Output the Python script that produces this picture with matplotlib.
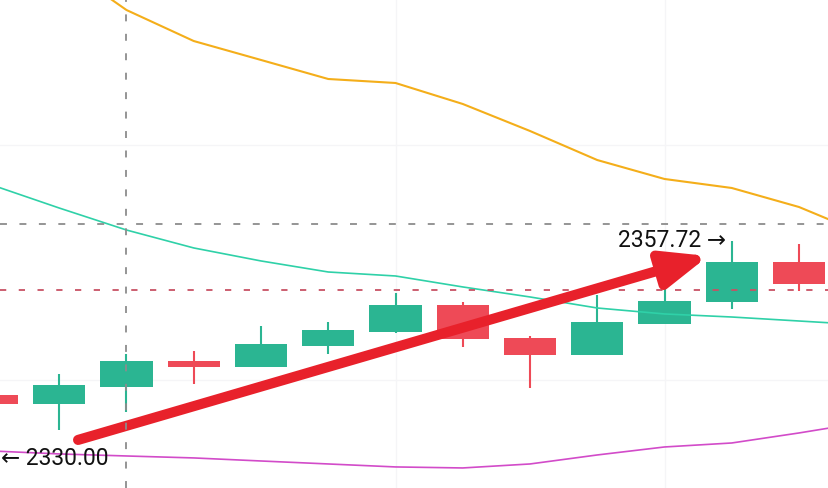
import matplotlib
matplotlib.use("Agg")
import matplotlib.pyplot as plt
import matplotlib.transforms as mtransforms
from matplotlib.patches import FancyArrowPatch, ArrowStyle
import numpy as np

plt.rcParams['lines.scale_dashes'] = False

# ---- data (prices) ----
idx = [0, 1, 2, 3, 4, 5, 6, 7, 8, 9, 10, 11, 12]
opens  = [2338.05, 2336.90, 2339.07, 2342.39, 2341.63, 2344.31, 2346.10,
          2349.55, 2345.33, 2343.16, 2347.12, 2349.93, 2355.04]
closes = [2336.90, 2339.33, 2342.39, 2341.63, 2344.57, 2346.35, 2349.55,
          2345.20, 2343.16, 2347.38, 2350.06, 2355.04, 2352.23]
highs  = [2338.05, 2340.73, 2343.29, 2343.67, 2346.86, 2347.38, 2351.08,
          2349.93, 2345.59, 2350.82, 2355.93, 2357.72, 2357.34]
lows   = [2336.90, 2333.58, 2335.88, 2339.46, 2341.63, 2343.29, 2345.97,
          2344.18, 2338.95, 2343.16, 2347.12, 2349.04, 2351.33]

ma_idx = [0, 1, 2, 3, 4, 5, 6, 7, 8, 9, 10, 11, 12, 13]
ma_orange = [2399.35, 2393.22, 2387.22, 2383.26, 2380.84, 2378.41, 2377.90,
             2375.22, 2371.77, 2368.06, 2365.64, 2364.49, 2362.06, 2358.49]
ma_teal = [2364.87, 2361.93, 2359.12, 2356.83, 2355.17, 2353.76, 2353.25,
           2351.85, 2350.57, 2349.16, 2348.40, 2348.01, 2347.50, 2346.99]
ma_pink = [2330.90, 2330.52, 2330.26, 2330.01, 2329.62, 2329.24, 2328.86,
           2328.73, 2329.24, 2330.39, 2331.41, 2331.92, 2333.20, 2334.60]

high_label = 2357.72
high_label_idx = 11
low_label = 2330.00
crosshair_price = 2359.89
crosshair_idx = 2
red_level = 2351.46
grid_x = [6, 10]
grid_y = [2340, 2370]
arrow_start = (1.28, 2332.31)
arrow_end = (10.65, 2355.80)

# ---- style ----
GREEN = "#2bb592"
RED = "#ee4a57"

fig = plt.figure(figsize=(8.29, 4.88), dpi=100)
ax = fig.add_axes([0, 0, 1, 1])
ax.set_xlim(0.119, 12.446)
ax.set_ylim(2326.17, 2388.50)
for s in ax.spines.values():
    s.set_visible(False)
ax.set_xticks(grid_x)
ax.set_yticks(grid_y)
ax.tick_params(length=0, labelbottom=False, labelleft=False)
ax.grid(True, color="#f5f5f7", lw=1.0, zorder=0)
ax.set_axisbelow(True)

# candles
o = np.array(opens); c = np.array(closes)
cols = [GREEN if cc >= oo else RED for oo, cc in zip(opens, closes)]
ax.vlines(idx, lows, highs, colors=cols, lw=1.5, zorder=2)
ax.bar(idx, np.abs(c - o), bottom=np.minimum(o, c), width=0.775,
       color=cols, zorder=3, linewidth=0)

# moving averages
ax.plot(ma_idx, ma_orange, color="#f4ae1a", lw=1.5, zorder=4)
ax.plot(ma_idx, ma_teal, color="#2fd1a8", lw=1.2, zorder=4)
ax.plot(ma_idx, ma_pink, color="#d24bc9", lw=1.2, zorder=4)

# horizontal red dashed level
ax.axhline(red_level, color="#c85264", lw=1.3, dashes=(4.5, 9), zorder=5)

# red trend arrow
arr = FancyArrowPatch(arrow_start, arrow_end,
                      arrowstyle=ArrowStyle('-|>', head_length=1.35, head_width=0.55),
                      mutation_scale=20, color="#e8212b", lw=7.3,
                      shrinkA=0, shrinkB=0, capstyle='round', joinstyle='round',
                      zorder=6)
ax.add_patch(arr)

# crosshair
ax.axhline(crosshair_price, color="#8c8c8c", lw=1.3, dashes=(5, 9), zorder=7)
ax.axvline(crosshair_idx, color="#8c8c8c", lw=1.3, dashes=(5, 9), zorder=7)

# labels
fam = ['Roboto', 'DejaVu Sans']
ax.annotate(f"{high_label:.2f} →", xy=(high_label_idx, high_label),
            xytext=(-6, 0), textcoords='offset pixels', ha='right', va='center',
            fontsize=16.5, family=fam, color="#111111", zorder=8)
ax.annotate(f"← {low_label:.2f}", xy=(0, low_label),
            xycoords=mtransforms.blended_transform_factory(ax.transAxes, ax.transData),
            xytext=(1, 0), textcoords='offset pixels', ha='left', va='center',
            fontsize=16.5, family=fam, color="#111111", zorder=8,
            annotation_clip=False)

fig.savefig("out.png", dpi=100)
